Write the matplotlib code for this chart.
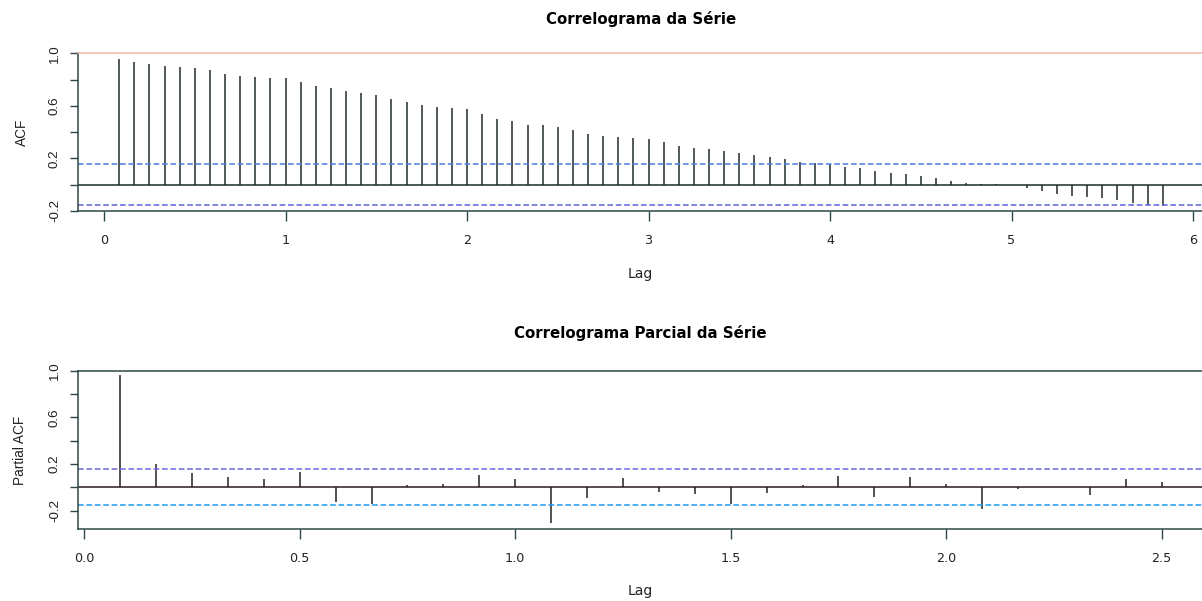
import numpy as np
import matplotlib
matplotlib.use("Agg")
import matplotlib.pyplot as plt

# ACF values, lags 1..70 (monthly series, lag in years)
acf_vals = [0.956, 0.936, 0.918, 0.900, 0.893, 0.885, 0.875, 0.844, 0.829, 0.817,
            0.814, 0.814, 0.779, 0.748, 0.735, 0.715, 0.695, 0.680, 0.649, 0.629,
            0.608, 0.588, 0.580, 0.573, 0.535, 0.501, 0.486, 0.456, 0.452, 0.438,
            0.415, 0.387, 0.372, 0.360, 0.352, 0.344, 0.324, 0.293, 0.281, 0.268,
            0.253, 0.242, 0.225, 0.207, 0.192, 0.174, 0.166, 0.156, 0.136, 0.123,
            0.100, 0.085, 0.080, 0.067, 0.052, 0.029, 0.014, 0.006, 0.002, -0.003,
            -0.029, -0.050, -0.072, -0.085, -0.093, -0.103, -0.118, -0.139, -0.156, -0.161]

# PACF values, lags 1..30
pacf_vals = [0.963, 0.197, 0.120, 0.091, 0.069, 0.134, -0.126, -0.143, 0.017, 0.028,
             0.105, 0.069, -0.309, -0.094, 0.083, -0.037, -0.057, -0.143, -0.046, 0.020,
             0.100, -0.080, 0.091, 0.028, -0.186, -0.017, 0.005, -0.069, 0.069, 0.043]

freq = 12
clim = 0.154

acf_lags = np.arange(1, len(acf_vals) + 1) / freq
pacf_lags = np.arange(1, len(pacf_vals) + 1) / freq

W, H = 1202, 601
fig = plt.figure(figsize=(W / 100, H / 100), dpi=100)

def px_axes(left, right, top, bottom):
    return fig.add_axes([left / W, 1 - bottom / H, (right - left) / W, (bottom - top) / H])

bar_col = '#343c3c'
spine_col = '#2e4848'

def style(ax, ylabel, yl):
    for s in ax.spines.values():
        s.set_color(spine_col)
        s.set_linewidth(1.1)
    ax.tick_params(axis='x', length=7.2, width=1.0, color=spine_col, pad=9.3,
                   labelsize=9.2, labelcolor='#222222')
    ax.tick_params(axis='y', length=6, width=1.0, color=spine_col, pad=6.5,
                   labelcolor='#222222')
    yt = [-0.2, 0.0, 0.2, 0.4, 0.6, 0.8, 1.0]
    ax.set_yticks(yt)
    ax.set_yticklabels(['-0.2', '', '0.2', '', '0.6', '', '1.0'],
                       rotation=90, va='center', family='Liberation Sans', fontsize=9.6)
    ax.set_ylabel(ylabel, family='Liberation Sans', fontsize=9.8, va='center',
                  color='#222222')
    ax.yaxis.set_label_coords(yl, 0.5)

# ---- ACF ----
ax1 = px_axes(78.3, 1203, 53.3, 211.3)
ax1.vlines(acf_lags, 0, acf_vals, color=bar_col, lw=1.2)
ax1.axhline(0, color='#1c2c2c', lw=1.1)
ax1.axhline(clim, color='#4a7fdc', lw=1.1, ls=(0, (3.7, 1.8)))
ax1.axhline(-clim, color='#5b63d4', lw=1.1, ls=(0, (3.7, 1.8)))
ax1.set_xlim(-0.1416, 6.055)
ax1.set_ylim(-0.204, 1.0)
ax1.set_xticks(range(0, 7))
style(ax1, 'ACF', -0.0505)
ax1.spines['top'].set_color('#f4b9a2')
ax1.set_xlabel('Lag', fontsize=10.1, va='baseline', color='#222222')
ax1.xaxis.set_label_coords(0.5, -0.419)
ax1.set_title('Correlograma da Série', fontsize=10.8, fontweight='bold',
              y=1.184, va='baseline', pad=0)

# ---- PACF ----
ax2 = px_axes(78.3, 1203, 370.7, 529.3)
ax2.vlines(pacf_lags, 0, pacf_vals, color='#3a3434', lw=1.2)
ax2.axhline(0, color='#2a1c1c', lw=1.1)
ax2.axhline(clim, color='#6a68de', lw=1.1, ls=(0, (3.7, 1.8)))
ax2.axhline(-clim, color='#1e9be8', lw=1.1, ls=(0, (3.7, 1.8)))
ax2.set_xlim(-0.0139, 2.596)
ax2.set_ylim(-0.36, 1.0)
ax2.set_xticks([0.0, 0.5, 1.0, 1.5, 2.0, 2.5])
ax2.set_xticklabels(['0.0', '0.5', '1.0', '1.5', '2.0', '2.5'])
style(ax2, 'Partial ACF', -0.0515)
ax2.set_xlabel('Lag', fontsize=10.1, va='baseline', color='#222222')
ax2.xaxis.set_label_coords(0.5, -0.4155)
ax2.set_title('Correlograma Parcial da Série', fontsize=10.8, fontweight='bold',
              y=1.209, va='baseline', pad=0)

fig.savefig('out.png', dpi=100)
